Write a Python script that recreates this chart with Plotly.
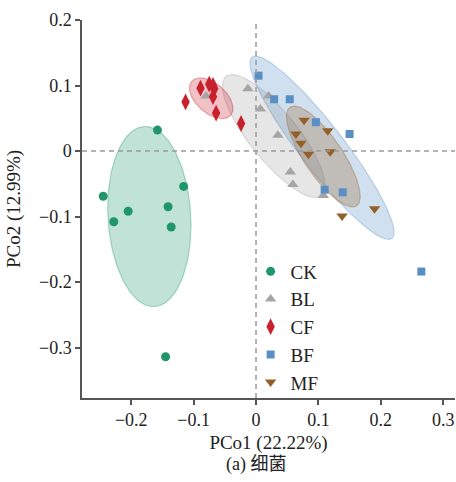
import numpy as np
import plotly.graph_objects as go

# ---- data ----
groups = ["CK", "BL", "CF", "BF", "MF"]

ck_x = [-0.158, -0.245, -0.228, -0.205, -0.141, -0.116, -0.136, -0.145]
ck_y = [0.032, -0.069, -0.108, -0.092, -0.085, -0.054, -0.116, -0.314]

bl_x = [-0.080, -0.013, 0.020, 0.007, 0.035, 0.055, 0.059, 0.108]
bl_y = [0.084, 0.095, 0.084, 0.064, 0.024, -0.032, -0.051, -0.068]

cf_x = [-0.113, -0.089, -0.075, -0.069, -0.067, -0.069, -0.064, -0.024]
cf_y = [0.075, 0.096, 0.102, 0.100, 0.095, 0.083, 0.058, 0.042]

bf_x = [0.004, 0.029, 0.054, 0.096, 0.150, 0.110, 0.139, 0.265]
bf_y = [0.115, 0.079, 0.079, 0.044, 0.026, -0.059, -0.063, -0.184]

mf_x = [0.077, 0.115, 0.064, 0.072, 0.084, 0.119, 0.190, 0.138]
mf_y = [0.047, 0.031, 0.026, 0.012, -0.005, -0.001, -0.088, -0.099]

# confidence ellipses (centre, semi-axes, rotation in degrees)
ell_cx = [-0.171, 0.0285, -0.0718, 0.1058, 0.1079]
ell_cy = [-0.100, 0.0229, 0.0805, 0.005, -0.0084]
ell_a = [0.1377, 0.119, 0.0406, 0.178, 0.0923]
ell_b = [0.0663, 0.038, 0.0231, 0.035, 0.0303]
ell_ang = [93.5, -49.6, -38.4, -50.9, -54.4]

xs = [ck_x, bl_x, cf_x, bf_x, mf_x]
ys = [ck_y, bl_y, cf_y, bf_y, mf_y]

colors = ["#21966a", "#a5a5a5", "#c9202e", "#5a8fc6", "#94602a"]
rgb = [(33, 150, 106), (165, 165, 165), (201, 32, 46), (90, 143, 198), (148, 96, 42)]
symbols = ["circle", "triangle-up", "diamond-tall", "square", "triangle-down"]
sizes = [9, 10, 12, 8, 10]

FONT = "Liberation Serif, Times New Roman, Noto Sans CJK SC, serif"

fig = go.Figure()

t = np.linspace(0, 2 * np.pi, 200)
for i, g in enumerate(groups):
    th = np.deg2rad(ell_ang[i])
    ex = ell_cx[i] + ell_a[i] * np.cos(t) * np.cos(th) - ell_b[i] * np.sin(t) * np.sin(th)
    ey = ell_cy[i] + ell_a[i] * np.cos(t) * np.sin(th) + ell_b[i] * np.sin(t) * np.cos(th)
    r, gg, b = rgb[i]
    fig.add_trace(go.Scatter(
        x=ex, y=ey, mode="lines", fill="toself",
        fillcolor=f"rgba({r},{gg},{b},0.28)",
        line=dict(color=f"rgba({r},{gg},{b},0.35)", width=1.2),
        showlegend=False, hoverinfo="skip"))

for i, g in enumerate(groups):
    fig.add_trace(go.Scatter(
        x=xs[i], y=ys[i], mode="markers", name=g,
        marker=dict(symbol=symbols[i], size=sizes[i], color=colors[i], line=dict(width=0))))

fig.add_shape(type="line", xref="x", yref="paper", x0=0, x1=0, y0=0, y1=1,
              line=dict(color="#9a9a9a", width=1.5, dash="5px,4px"))
fig.add_shape(type="line", xref="paper", yref="y", x0=0, x1=1, y0=0, y1=0,
              line=dict(color="#9a9a9a", width=1.5, dash="5px,4px"))

axis_common = dict(
    showgrid=False, zeroline=False, showline=True, linecolor="#555555", linewidth=1.5,
    ticks="outside", ticklen=5, tickwidth=1.5, tickcolor="#555555", dtick=0.1,
    tickfont=dict(family=FONT, size=18, color="#222222"), mirror=False, automargin=False,
)

fig.update_layout(
    width=456, height=482,
    margin=dict(l=82, r=1, t=20, b=84),
    paper_bgcolor="white", plot_bgcolor="white",
    font=dict(family=FONT, size=18, color="#222222"),
    xaxis=dict(range=[-0.279, 0.319], tick0=0,
               title=dict(text="PCo1 (22.22%)", font=dict(family=FONT, size=19), standoff=6),
               **axis_common),
    yaxis=dict(range=[-0.377, 0.2], tick0=0,
               title=dict(text="PCo2 (12.99%)", font=dict(family=FONT, size=19), standoff=13),
               **axis_common),
    legend=dict(x=0.452, y=0.385, xanchor="left", yanchor="top", bgcolor="rgba(0,0,0,0)",
                font=dict(family=FONT, size=19, color="#222222"), itemwidth=30,
                tracegroupgap=0),
    showlegend=True,
)

fig.add_annotation(text="(a) 细菌", xref="paper", yref="paper", x=0.467, y=-0.177,
                   xanchor="center", yanchor="middle", showarrow=False,
                   font=dict(family=FONT, size=18, color="#222222"))

fig.write_html("out.html", config={"displayModeBar": False},
               post_script="document.body.style.margin='0';")
